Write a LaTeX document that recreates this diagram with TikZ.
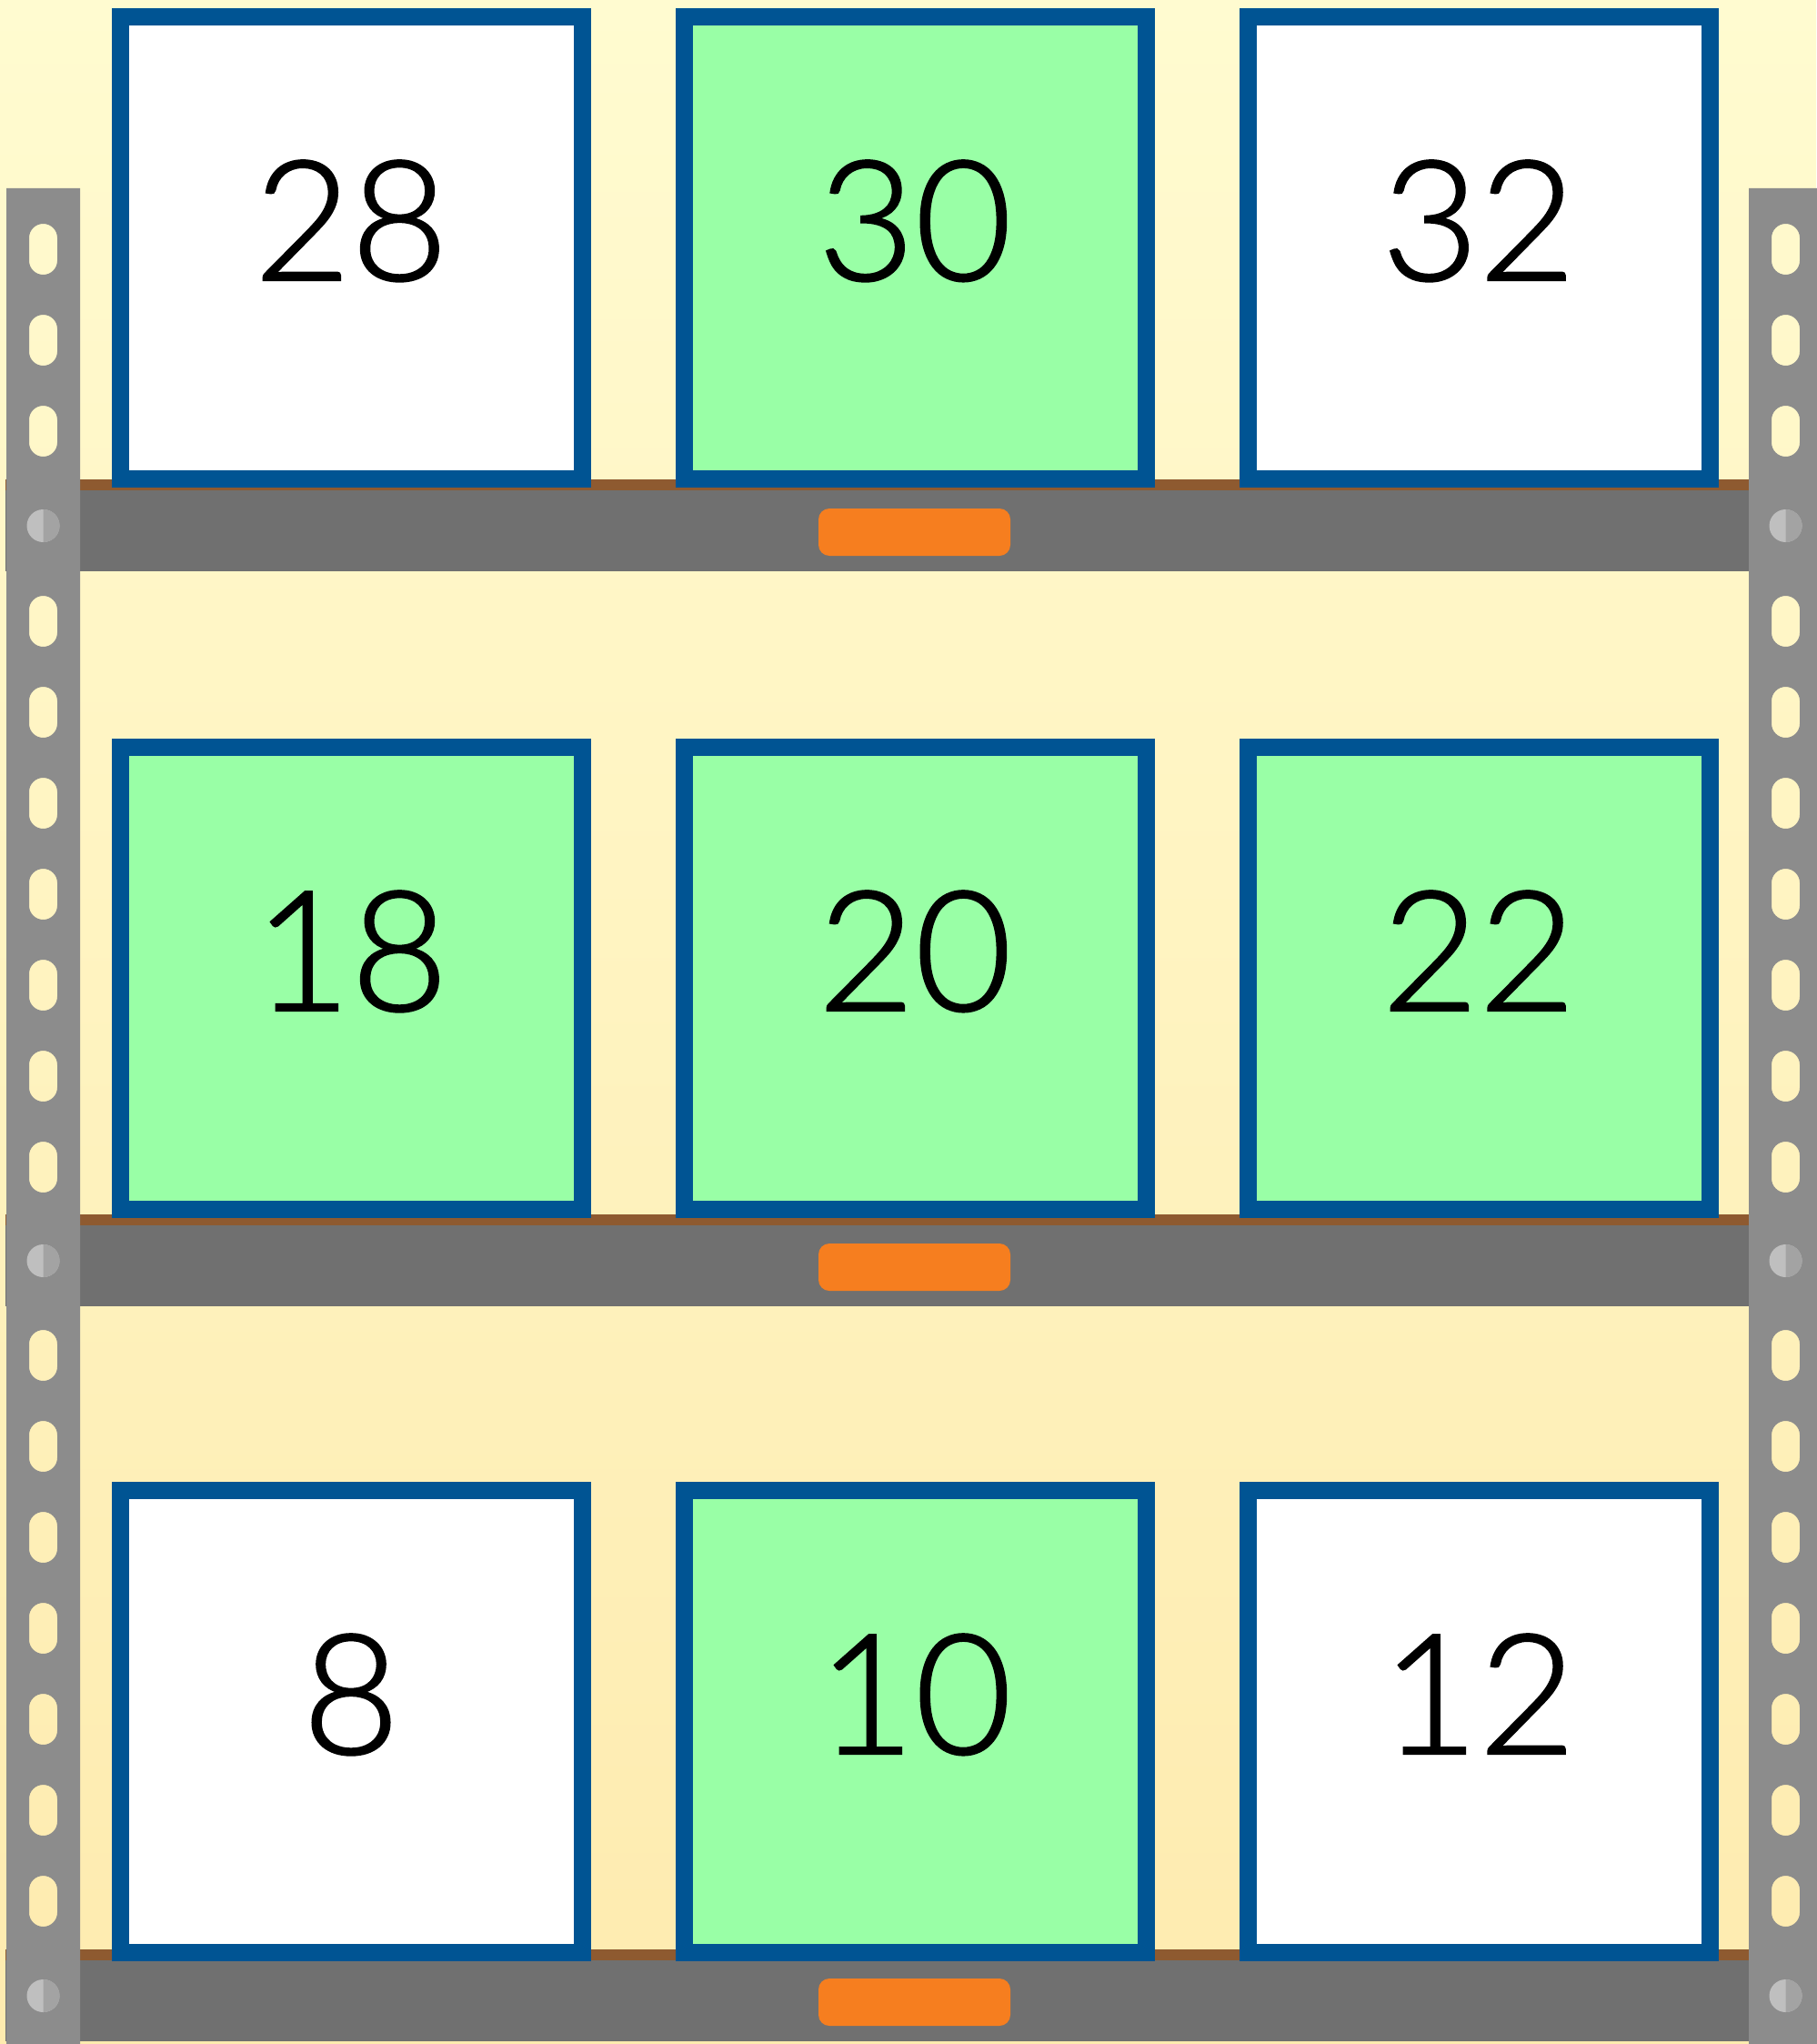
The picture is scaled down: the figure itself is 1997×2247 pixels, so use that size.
\documentclass[tikz,border=0pt]{standalone}
\usepackage{fontspec}
\setmainfont{Lato}[UprightFont={* Light}]
\newfontfamily\binfont{Lato}[UprightFont={* Light},FakeBold=1.3]
\usetikzlibrary{positioning,calc}
\definecolor{bgtop}{RGB}{255,251,208}
\definecolor{bgbottom}{RGB}{254,235,175}
\definecolor{postgray}{RGB}{140,140,140}
\definecolor{shelfgray}{RGB}{112,112,112}
\definecolor{shelflip}{RGB}{142,90,48}
\definecolor{handleorange}{RGB}{246,126,31}
\definecolor{binblue}{RGB}{0,84,147}
\definecolor{bingreen}{RGB}{153,255,166}
\definecolor{boltlight}{RGB}{191,191,191}
\definecolor{boltdark}{RGB}{163,163,163}

\begin{document}
\begin{tikzpicture}[x=0.5pt,y=-0.5pt,node distance=46.5pt,
  bin/.style={draw=binblue,line width=9.5pt,minimum size=254pt,inner sep=0pt,
    font=\binfont\fontsize{92}{92}\selectfont,text height=35.5pt,text depth=0pt},
  binfull/.style={bin,fill=bingreen},
  binfree/.style={bin,fill=white}]
\useasboundingbox (0,0) rectangle (1997,2247);
\shade[top color=bgtop,bottom color=bgbottom] (0,0) rectangle (1997,2247);
\foreach \s in {527,1335,2143} {
  \fill[shelflip] (6,\s) rectangle (1923,\s+12);
  \fill[shelfgray] (6,\s+12) rectangle (1923,\s+101);
  \fill[handleorange,rounded corners=6pt] (900,\s+32) rectangle (1111,\s+84);
}
\node[binfree] (b28) at (386,272.5) {28};
\node[binfull,right=of b28] (b30) {30};
\node[binfree,right=of b30] (b32) {32};
\node[binfull] (b18) at (386,1075.5) {18};
\node[binfull,right=of b18] (b20) {20};
\node[binfull,right=of b20] (b22) {22};
\node[binfree] (b8) at (386,1892.5) {8};
\node[binfull,right=of b8] (b10) {10};
\node[binfree,right=of b10] (b12) {12};
\foreach \px in {7,1923} {
  \fill[postgray,even odd rule] (\px,207) rectangle (\px+81,2247)
    foreach \y in {274,374,474,683,783,...,1283,1490,1590,...,2090} {
      {[rounded corners=7.75pt] (\px+25,\y-28) rectangle (\px+56,\y+28)}};
  \foreach \s in {527,1335,2143} {
    \fill[boltlight] (\px+40.5,\s+51) circle[radius=18];
    \fill[boltdark] (\px+40.5,\s+33) arc[start angle=-90,end angle=90,radius=18] -- cycle;
  }
}
\end{tikzpicture}
\end{document}
